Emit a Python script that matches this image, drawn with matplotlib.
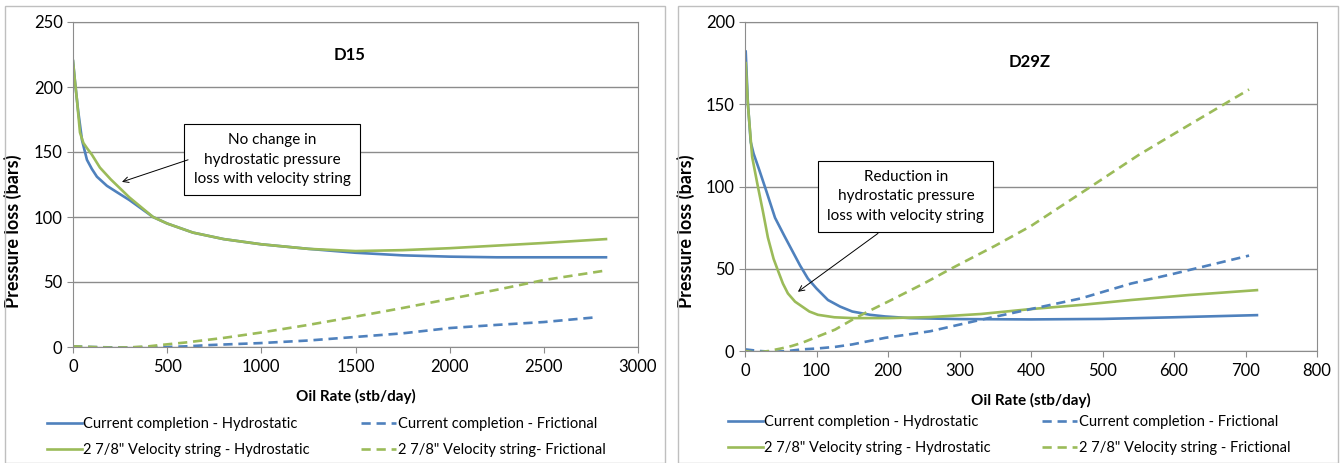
import matplotlib.pyplot as plt
from matplotlib.patches import Rectangle

# ---- D15 data (oil rate stb/day, pressure loss bars)
d15_cur_hyd_x = [0, 10, 27, 48, 74, 100, 127, 180, 234, 300, 425, 500, 637, 800, 1000,
                 1250, 1500, 1750, 2000, 2250, 2500, 2830]
d15_cur_hyd_y = [220, 205, 182, 159, 144, 137, 131, 124, 119, 113, 100, 95, 88, 83, 79,
                 75.5, 72.5, 70.5, 69.5, 69, 69, 69]
d15_vs_hyd_x = [0, 10, 21, 37, 55, 74, 100, 143, 200, 250, 300, 425, 500, 637, 800, 1000,
                1250, 1500, 1750, 2000, 2250, 2500, 2830]
d15_vs_hyd_y = [220, 205, 190, 165, 157, 153, 148, 138, 129, 122, 115, 100, 95, 88, 83, 79,
                75.5, 73.8, 74.5, 76, 78, 80, 83]
d15_cur_fr_x = [0, 100, 200, 300, 400, 500, 600, 727, 850, 993, 1250, 1524, 1750, 2002,
                2250, 2500, 2788]
d15_cur_fr_y = [0.5, 0, -0.3, -0.3, 0, 0, 0.5, 1.5, 2.2, 3, 5, 8, 10.5, 14.6, 17, 19.2, 23]
d15_vs_fr_x = [0, 100, 200, 300, 400, 462, 600, 800, 993, 1250, 1524, 1750, 2002, 2250,
               2500, 2836]
d15_vs_fr_y = [0.5, 0, -0.5, -0.3, 0.5, 1.5, 3.5, 7, 11, 17, 24, 30, 37, 44, 51.5, 59]

# ---- D29Z data
d29_cur_hyd_x = [1, 4, 8, 12, 20, 30, 42, 55, 66, 77, 88, 100, 116, 133, 150, 175, 196,
                 230, 300, 400, 500, 600, 716]
d29_cur_hyd_y = [182, 151, 127, 120, 110, 97, 81, 70, 61, 52, 44, 38, 31, 27, 24, 22, 21,
                 20, 19.4, 19.2, 19.5, 20.5, 21.8]
d29_vs_hyd_x = [1, 4, 10, 18, 25, 32, 40, 46, 53, 60, 70, 80, 90, 102, 125, 150, 200, 259,
                330, 400, 470, 540, 620, 716]
d29_vs_hyd_y = [175, 150, 118, 100, 85, 69, 56, 49, 41, 35, 30, 27, 24, 22, 20.5, 20, 20,
                20.6, 22.5, 25.5, 28, 31, 34, 37]
d29_cur_fr_x = [0, 20, 40, 60, 80, 100, 126, 150, 196, 259, 330, 400, 470, 540, 600, 705]
d29_cur_fr_y = [1, 0, -0.5, 0, 1, 1.5, 2.5, 4, 8, 12, 19, 25.5, 32, 41, 47, 58]
d29_vs_fr_x = [0, 15, 33, 50, 65, 80, 100, 126, 150, 172, 200, 250, 288, 350, 400, 484,
               550, 600, 670, 705]
d29_vs_fr_y = [0, -1, 0, 1.5, 3, 5, 8.5, 13, 19, 24, 30, 41, 50, 64, 76, 100, 119, 132,
               150, 159]

labels = ["Current completion - Hydrostatic", "Current completion - Frictional",
          "2 7/8\" Velocity string - Hydrostatic", "2 7/8\" Velocity string- Frictional"]
labels_r = ["Current completion - Hydrostatic", "Current completion - Frictional",
            "2 7/8\" Velocity string - Hydrostatic", "2 7/8\" Velocity string - Frictional"]

BLUE = "#4F81BD"
GREEN = "#9BBB59"
GRID = "#8C8C8C"

plt.rcParams["font.family"] = ["Lato", "DejaVu Sans"]

W, H = 1341, 463
fig = plt.figure(figsize=(W / 100, H / 100), dpi=100)

# outer chart borders
for x0, x1 in [(5, 665), (678, 1338)]:
    fig.patches.append(Rectangle((x0 / W, 0.0), (x1 - x0) / W, 1 - 6 / H,
                                 transform=fig.transFigure, fill=False,
                                 edgecolor="#BFBFBF", lw=1))


def panel(rect, series, xmax, xstep, ymax, ystep, title, title_pos, box_text,
          box_xy, arrow_start, arrow_tip, leg_labels, leg_anchor, ylab_x):
    ax = fig.add_axes(rect)
    (chx, chy), (cfx, cfy), (vhx, vhy), (vfx, vfy) = series
    l1, = ax.plot(chx, chy, color=BLUE, lw=1.9)
    l3, = ax.plot(vhx, vhy, color=GREEN, lw=1.9)
    l2, = ax.plot(cfx, cfy, color=BLUE, lw=1.9, dashes=(3.5, 2.2))
    l4, = ax.plot(vfx, vfy, color=GREEN, lw=1.9, dashes=(3.5, 2.2))
    ax.set_xlim(0, xmax)
    ax.set_ylim(0, ymax)
    ax.set_xticks(range(0, xmax + 1, xstep))
    ax.set_yticks(range(0, ymax + 1, ystep))
    ax.yaxis.grid(True, color=GRID, lw=1)
    ax.set_axisbelow(True)
    for s in ax.spines.values():
        s.set_color(GRID)
    ax.tick_params(colors=GRID, labelcolor="black", labelsize=12, length=4)
    ax.tick_params(axis="x", pad=5)
    ax.set_xlabel("Oil Rate (stb/day)", fontsize=11, fontweight="bold", labelpad=10)
    ax.set_ylabel("Pressure loss (bars)", fontsize=13, fontweight="bold")
    ax.yaxis.set_label_coords(ylab_x, 0.5, transform=fig.transFigure)
    ax.text(title_pos[0], title_pos[1], title, transform=ax.transAxes,
            fontsize=12, fontweight="bold", ha="center", va="center")
    ax.text(box_xy[0], box_xy[1], box_text, ha="center", va="center", fontsize=11,
            linespacing=1.5,
            bbox=dict(boxstyle="square,pad=0.6", fc="white", ec="black", lw=0.8))
    ax.annotate("", xy=arrow_tip, xytext=arrow_start,
                arrowprops=dict(arrowstyle="->", color="black", lw=0.7,
                                shrinkA=0, shrinkB=0))
    ax.legend([l1, l3, l2, l4], [leg_labels[0], leg_labels[2], leg_labels[1], leg_labels[3]],
              ncol=2, loc="upper left", bbox_to_anchor=leg_anchor,
              bbox_transform=fig.transFigure, frameon=False, fontsize=10.5,
              handlelength=2.4, handletextpad=0.1, columnspacing=3.5,
              labelspacing=0.8, borderaxespad=0, borderpad=0)
    return ax


panel([73 / W, 1 - 347 / H, 565 / W, 325 / H],
      [(d15_cur_hyd_x, d15_cur_hyd_y), (d15_cur_fr_x, d15_cur_fr_y),
       (d15_vs_hyd_x, d15_vs_hyd_y), (d15_vs_fr_x, d15_vs_fr_y)],
      3000, 500, 250, 50, "D15", (0.49, 0.9),
      "No change in\nhydrostatic pressure\nloss with velocity string",
      (1057, 144), (611, 144), (260, 127),
      labels, (47 / W, 1 - 417 / H), 22 / W)

panel([745 / W, 1 - 351 / H, 572 / W, 329 / H],
      [(d29_cur_hyd_x, d29_cur_hyd_y), (d29_cur_fr_x, d29_cur_fr_y),
       (d29_vs_hyd_x, d29_vs_hyd_y), (d29_vs_fr_x, d29_vs_fr_y)],
      800, 100, 200, 50, "D29Z", (0.498, 0.878),
      "Reduction in\nhydrostatic pressure\nloss with velocity string",
      (225, 94), (186, 71.5), (74, 36),
      labels_r, (728 / W, 1 - 415 / H), 695 / W)

fig.savefig("out.png", dpi=100)
